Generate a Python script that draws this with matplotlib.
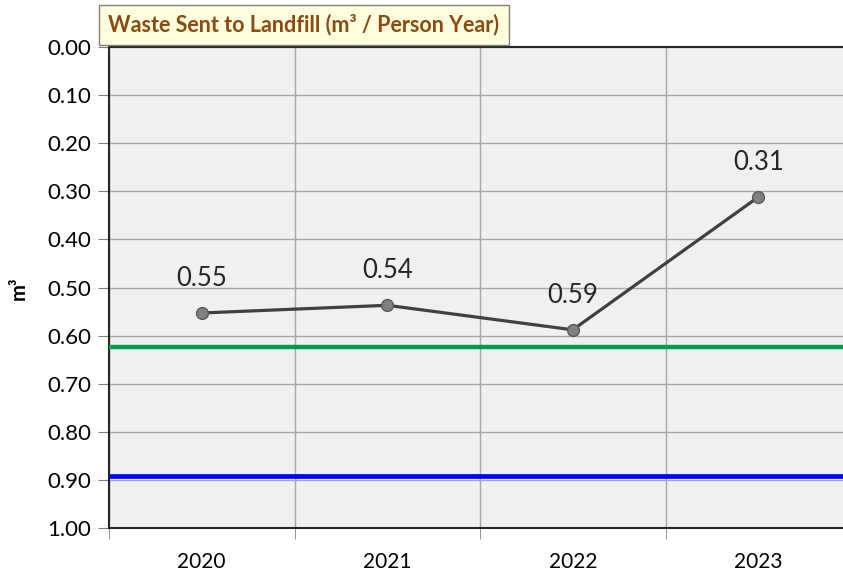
import matplotlib
matplotlib.use("Agg")
import matplotlib.pyplot as plt

plt.rcParams['font.family'] = ['Lato', 'DejaVu Sans']

years = ["2020", "2021", "2022", "2023"]
waste = [0.553, 0.537, 0.588, 0.312]
labels = ["0.55", "0.54", "0.59", "0.31"]
green_level = 0.624
blue_level = 0.892

fig = plt.figure(figsize=(8.43, 5.76), dpi=100)
ax = fig.add_axes([109/843, 48/576, 742/843, 481/576])
ax.set_facecolor("#eff0f2")

x = list(range(len(years)))
ax.axhline(green_level, color="#00a04b", lw=3.2, zorder=3)
ax.axhline(blue_level, color="#0000ff", lw=3.4, zorder=3)
ax.plot(x, waste, color="#404040", lw=2.3, marker="o", markersize=8.5,
        markerfacecolor="#808080", markeredgecolor="#595959", zorder=4)
for xi, v, t in zip(x, waste, labels):
    ax.annotate(t, (xi, v), xytext=(0, 25), textcoords="offset points",
                ha="center", va="center", fontsize=18.5, color="#262626")

ax.set_xlim(-0.5, 3.5)
ax.set_ylim(1.0, 0.0)
ax.set_yticks([i / 10 for i in range(11)])
ax.set_yticklabels([f"{i/10:.2f}" for i in range(11)], fontsize=16)
ax.set_xticks(x)
ax.set_xticklabels(years, fontsize=15)
ax.tick_params(axis="x", which="major", length=0, pad=17)
ax.set_xticks([-0.5, 0.5, 1.5, 2.5], minor=True)
ax.tick_params(axis="x", which="minor", length=8, color="#808080")
ax.tick_params(axis="y", length=8, color="#808080", pad=5)
ax.grid(True, axis="y", color="#a6a6a6", lw=1)
ax.grid(True, axis="x", which="minor", color="#a6a6a6", lw=1)
ax.set_axisbelow(True)
for s in ["left", "bottom", "top"]:
    ax.spines[s].set_color("#262626")
    ax.spines[s].set_linewidth(1.5)

fig.text(19/843, 1 - 288/576, "m³", rotation=90, fontsize=14.5, fontweight="bold",
         ha="center", va="center")

fig.text(304/843, 1 - 25/576, "Waste Sent to Landfill (m³ / Person Year)",
         fontsize=15.5, fontweight="bold", color="#8b4a0e", ha="center", va="center",
         bbox=dict(boxstyle="square,pad=0.42", facecolor="#ffffe0", edgecolor="#7f7f7f", lw=1))

fig.savefig("out.png", dpi=100)
